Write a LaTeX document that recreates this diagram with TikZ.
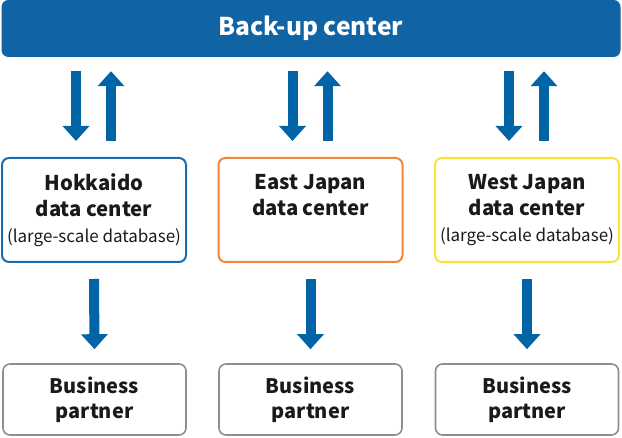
\documentclass[tikz,border=0pt]{standalone}
\usepackage{fontspec}
\setmainfont{Noto Sans CJK JP}
\usetikzlibrary{arrows.meta}
\definecolor{barblue}{HTML}{1164A3}
\definecolor{arrblue}{HTML}{0064A7}
\definecolor{hkblue}{HTML}{1B6CAA}
\definecolor{ejorange}{HTML}{F28539}
\definecolor{wjyellow}{HTML}{F8E23A}
\definecolor{bpgray}{HTML}{8E8E8E}
\definecolor{txt}{HTML}{1A1A1A}
\newcommand{\smalltxt}[1]{{\fontsize{17}{26}\mdseries\selectfont #1}}
\begin{document}
\begin{tikzpicture}[x=1pt,y=-1pt,
  dcbox/.style={draw, line width=2pt, rounded corners=7pt, minimum width=184pt, minimum height=104pt, align=center, text=txt, inner sep=0pt, font=\bfseries\fontsize{20.3}{26}\selectfont},
  bpbox/.style={draw=bpgray, line width=1.6pt, rounded corners=7pt, minimum width=183pt, minimum height=71pt, align=center, text=txt, inner sep=0pt, font=\bfseries\fontsize{20}{25}\selectfont},
  bigarrow/.style={draw=arrblue, line width=10pt, -{Triangle[width=26pt,length=15pt]}}]
\useasboundingbox (0,0) rectangle (622,438);
\node[fill=barblue, rounded corners=7pt, minimum width=619pt, minimum height=57pt, inner sep=0pt, text=white, font=\bfseries\fontsize{24.5}{28}\selectfont] (bar) at (311,28.5) {Back-up center};

\node[dcbox, draw=hkblue] (hk) at (94,210) {Hokkaido\\data center\\\smalltxt{(large-scale database)}};
\node[dcbox, draw=ejorange] (ej) at (310.5,210) {East Japan\\data center\\\smalltxt{\phantom{(large-scale database)}}};
\node[dcbox, draw=wjyellow] (wj) at (527,210) {West Japan\\data center\\\smalltxt{(large-scale database)}};

\node[bpbox] (bp1) at (94.5,399.5) {Business\\partner};
\node[bpbox] (bp2) at (310.5,399.5) {Business\\partner};
\node[bpbox] (bp3) at (527,399.5) {Business\\partner};

\foreach \n in {hk,ej,wj}{
  \draw[bigarrow] ([xshift=-18pt,yshift=-14pt]\n.north |- bar.south) -- ([xshift=-18pt,yshift=16pt]\n.north);
  \draw[bigarrow] ([xshift=17pt,yshift=16pt]\n.north) -- ([xshift=17pt,yshift=-14pt]\n.north |- bar.south);
}
\draw[bigarrow] ([yshift=-16pt]hk.south) -- ([yshift=14pt]bp1.north);
\draw[bigarrow] ([yshift=-16pt]ej.south) -- ([yshift=14pt]bp2.north);
\draw[bigarrow] ([yshift=-16pt]wj.south) -- ([yshift=14pt]bp3.north);
\end{tikzpicture}
\end{document}
